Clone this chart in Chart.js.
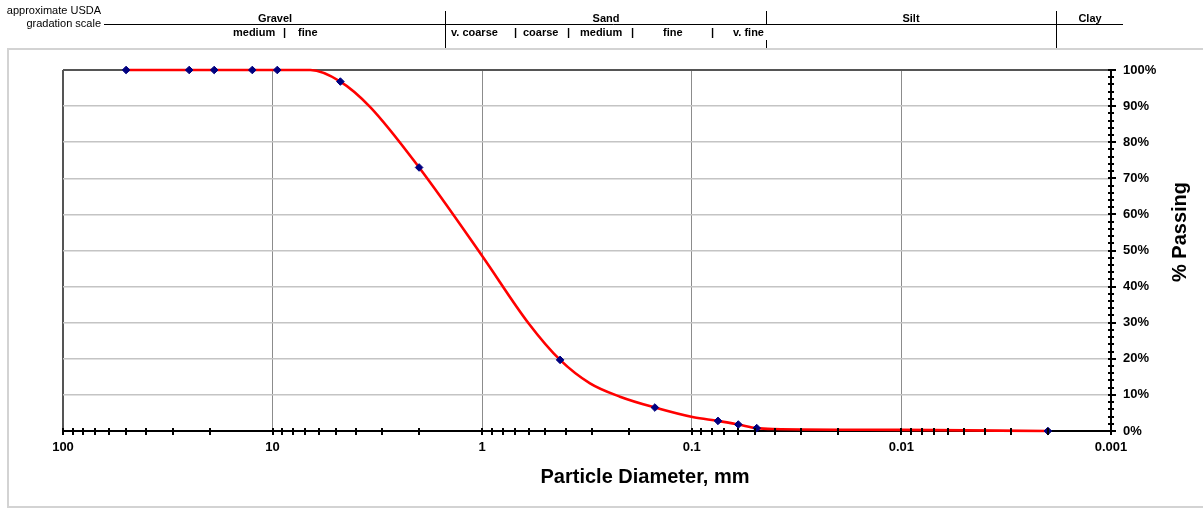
<!DOCTYPE html>
<html>
<head>
<meta charset="utf-8">
<script src="https://cdn.jsdelivr.net/npm/chart.js@4.4.1/dist/chart.umd.min.js"></script>
<style>
html,body{margin:0;padding:0;background:#fff;}
#wrap{position:relative;width:1203px;height:508px;}
</style>
</head>
<body>
<div id="wrap"><canvas id="c" width="1203" height="508"></canvas></div>
<script>
// ---- data ----
const sampleDiameters = [50, 25, 19, 12.5, 9.5, 4.75, 2.0, 0.425, 0.15, 0.075, 0.06, 0.049, 0.002];
const samplePassing   = [100, 100, 100, 100, 100, 96.8, 73, 19.7, 6.5, 2.8, 1.8, 0.8, 0];

const curveDiameters = [50, 25, 19, 12.5, 9.5, 6.6, 4.75, 3.43, 2.0, 1.0, 0.6, 0.425, 0.306, 0.22, 0.15, 0.098, 0.075, 0.06, 0.049, 0.041, 0.01, 0.002];
const curvePassing   = [100, 100, 100, 100, 100, 100, 96.8, 89.8, 73, 48.5, 29.8, 19.7, 13.2, 9.5, 6.5, 3.8, 2.8, 1.8, 0.8, 0.55, 0.3, 0];

const xTickValues = [0.001,0.002,0.003,0.004,0.005,0.006,0.007,0.008,0.009,
                     0.01,0.02,0.03,0.04,0.05,0.06,0.07,0.08,0.09,
                     0.1,0.2,0.3,0.4,0.5,0.6,0.7,0.8,0.9,
                     1,2,3,4,5,6,7,8,9,
                     10,20,30,40,50,60,70,80,90,100];
const xMajorTicks = [100, 10, 1, 0.1, 0.01, 0.001];
const xTickLabels = ['100', '10', '1', '0.1', '0.01', '0.001'];

const yTickValues = [0, 10, 20, 30, 40, 50, 60, 70, 80, 90, 100];
const yTickLabels = ['0%', '10%', '20%', '30%', '40%', '50%', '60%', '70%', '80%', '90%', '100%'];
const yMinorTicks = [0,2,4,6,8,10,12,14,16,18,20,22,24,26,28,30,32,34,36,38,40,42,44,46,48,50,52,54,56,58,60,62,64,66,68,70,72,74,76,78,80,82,84,86,88,90,92,94,96,98,100];

const xTitle = 'Particle Diameter, mm';
const yTitle = '% Passing';

// approximate USDA gradation scale header
const headerMain = [
  {t: 'Gravel', x: 275}, {t: 'Sand', x: 606}, {t: 'Silt', x: 911}, {t: 'Clay', x: 1090}
];
const headerSub = [
  {t: 'medium', x: 233}, {t: '|', x: 283}, {t: 'fine', x: 298},
  {t: 'v. coarse', x: 451}, {t: '|', x: 514}, {t: 'coarse', x: 523}, {t: '|', x: 567},
  {t: 'medium', x: 580}, {t: '|', x: 631}, {t: 'fine', x: 663}, {t: '|', x: 711}, {t: 'v. fine', x: 733}
];

const FONT = "'Liberation Sans', Arial, Helvetica, sans-serif";
const isMajor = v => xMajorTicks.some(m => Math.abs(Math.log10(v) - Math.log10(m)) < 1e-6);

const decorPlugin = {
  id: 'decor',
  beforeDraw(chart) {
    const c = chart.ctx;
    c.save();
    c.fillStyle = '#fff';
    c.fillRect(0, 0, chart.width, chart.height);
    c.strokeStyle = '#d3d3d3';
    c.lineWidth = 2;
    c.strokeRect(8, 49, 1210, 458);
    c.fillStyle = '#000';
    c.font = '11px ' + FONT;
    c.textBaseline = 'middle';
    c.textAlign = 'right';
    c.fillText('approximate USDA', 101, 11);
    c.fillText('gradation scale', 101, 24);
    c.strokeStyle = '#000';
    c.lineWidth = 1;
    c.beginPath();
    c.moveTo(104, 24.5); c.lineTo(1123, 24.5);
    c.moveTo(445.5, 11); c.lineTo(445.5, 48);
    c.moveTo(766.5, 11); c.lineTo(766.5, 24);
    c.moveTo(766.5, 40); c.lineTo(766.5, 48);
    c.moveTo(1056.5, 11); c.lineTo(1056.5, 48);
    c.stroke();
    c.font = 'bold 11px ' + FONT;
    c.textAlign = 'center';
    headerMain.forEach(h => c.fillText(h.t, h.x, 18.5));
    c.textAlign = 'left';
    headerSub.forEach(h => c.fillText(h.t, h.x, 33));
    c.restore();
  },
  afterDatasetsDraw(chart) {
    const c = chart.ctx;
    const xs = chart.scales.x, ys = chart.scales.y;
    const a = chart.chartArea;
    c.save();
    c.strokeStyle = '#000';
    c.lineWidth = 2;
    c.beginPath();
    xTickValues.forEach(v => {
      const px = Math.round(xs.getPixelForValue(v));
      c.moveTo(px, a.bottom - 3);
      c.lineTo(px, a.bottom + 4);
    });
    yMinorTicks.forEach(v => {
      const py = Math.round(ys.getPixelForValue(v));
      const major = v % 10 === 0;
      c.moveTo(a.right - 3, py);
      c.lineTo(a.right + (major ? 5 : 3), py);
    });
    c.stroke();
    c.fillStyle = '#000';
    c.font = 'bold 20px ' + FONT;
    c.textAlign = 'center';
    c.textBaseline = 'middle';
    c.fillText(xTitle, 645, 477);
    c.translate(1180, 232);
    c.rotate(-Math.PI / 2);
    c.fillText(yTitle, 0, 0);
    c.restore();
  }
};

new Chart(document.getElementById('c'), {
  type: 'line',
  data: {
    datasets: [
      {
        label: 'samples',
        data: sampleDiameters.map((d, i) => ({x: d, y: samplePassing[i]})),
        showLine: false,
        pointStyle: 'rectRot',
        pointRadius: 3.8,
        pointBackgroundColor: '#000080',
        pointBorderColor: '#000080',
        pointBorderWidth: 1,
        clip: false
      },
      {
        label: 'curve',
        data: curveDiameters.map((d, i) => ({x: d, y: curvePassing[i]})),
        borderColor: '#ff0000',
        borderWidth: 2.6,
        pointRadius: 0,
        cubicInterpolationMode: 'monotone',
        fill: false,
        clip: false
      }
    ]
  },
  options: {
    responsive: false,
    animation: false,
    devicePixelRatio: 1,
    layout: {padding: {left: 63, top: 70, right: 0, bottom: 0}},
    plugins: {legend: {display: false}, tooltip: {enabled: false}, title: {display: false}},
    scales: {
      x: {
        type: 'logarithmic',
        reverse: true,
        min: 0.001,
        max: 100,
        afterFit: s => { s.height = 77; },
        afterBuildTicks: s => { s.ticks = xTickValues.map(v => ({value: v})); },
        ticks: {
          autoSkip: false,
          maxRotation: 0,
          padding: 9,
          color: '#000',
          font: {family: FONT, size: 13, weight: 'bold'},
          callback: (v) => {
            const i = xMajorTicks.findIndex(m => Math.abs(Math.log10(v) - Math.log10(m)) < 1e-6);
            return i >= 0 ? xTickLabels[i] : '';
          }
        },
        grid: {
          drawTicks: false,
          color: ctx => {
            const v = ctx.tick && ctx.tick.value;
            if (v === undefined) return 'transparent';
            if (Math.abs(v - 100) < 1e-9) return '#555';
            return isMajor(v) ? '#8c8c8c' : 'transparent';
          },
          lineWidth: ctx => (ctx.tick && Math.abs(ctx.tick.value - 100) < 1e-9) ? 2 : 1
        },
        border: {display: true, color: '#000', width: 2}
      },
      y: {
        type: 'linear',
        position: 'right',
        min: 0,
        max: 100,
        afterFit: s => { s.width = 92; },
        afterBuildTicks: s => { s.ticks = yTickValues.map(v => ({value: v})); },
        ticks: {
          padding: 12,
          color: '#000',
          font: {family: FONT, size: 13, weight: 'bold'},
          callback: (v) => yTickLabels[yTickValues.indexOf(v)]
        },
        grid: {
          drawTicks: false,
          color: ctx => {
            const v = ctx.tick && ctx.tick.value;
            if (v === 100) return '#555';
            if (v === 0) return 'transparent';
            return '#c4c4c4';
          },
          lineWidth: ctx => (ctx.tick && ctx.tick.value === 100) ? 2 : 1.5
        },
        border: {display: true, color: '#000', width: 2}
      }
    }
  },
  plugins: [decorPlugin]
});
</script>
</body>
</html>
